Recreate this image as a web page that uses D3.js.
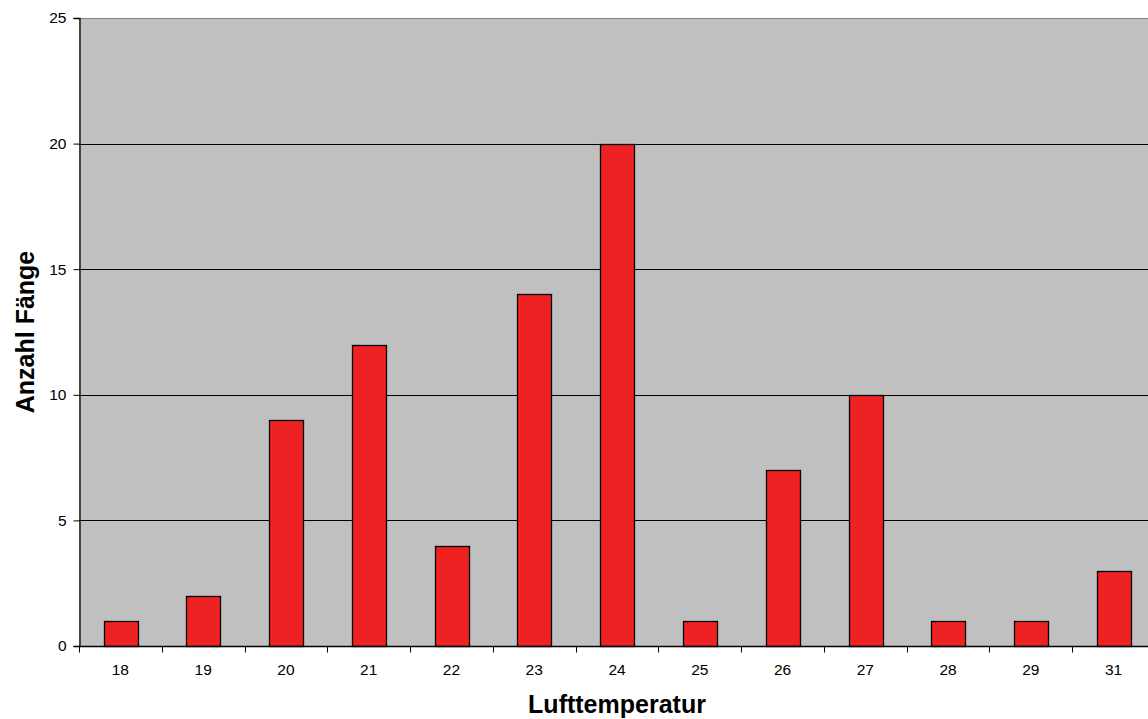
<!DOCTYPE html>
<html>
<head>
<meta charset="utf-8">
<script src="https://cdn.jsdelivr.net/npm/d3@7"></script>
<style>
  html, body { margin: 0; padding: 0; background: #fff; }
  svg { display: block; font-family: "Liberation Sans", Arial, sans-serif; }
</style>
</head>
<body>
<svg id="chart" width="1148" height="719"></svg>
<script>
// Catch counts per air temperature (°C)
const temperatures = ["18", "19", "20", "21", "22", "23", "24", "25", "26", "27", "28", "29", "31"];
const catches = [1, 2, 9, 12, 4, 14, 20, 1, 7, 10, 1, 1, 3];
const yTicks = [0, 5, 10, 15, 20, 25];

const svg = d3.select("#chart");
const plotLeft = 79, plotTop = 18, plotBottom = 646, plotRight = 1155;

const x = d3.scaleBand().domain(temperatures).range([plotLeft, plotRight]).paddingInner(0).paddingOuter(0);
const y = d3.scaleLinear().domain([0, 25]).range([plotBottom, plotTop]);

// plot area background
svg.append("rect")
  .attr("x", plotLeft).attr("y", plotTop)
  .attr("width", plotRight - plotLeft).attr("height", plotBottom - plotTop)
  .attr("fill", "#c0c0c0");

// top border of the plot area
svg.append("line")
  .attr("x1", plotLeft).attr("x2", plotRight)
  .attr("y1", plotTop + 0.5).attr("y2", plotTop + 0.5)
  .attr("stroke", "#808080").attr("stroke-width", 1);

// horizontal gridlines
svg.append("g").selectAll("line")
  .data(yTicks.filter(d => d > 0 && d < 25))
  .join("line")
  .attr("x1", plotLeft).attr("x2", plotRight)
  .attr("y1", d => Math.round(y(d)) + 0.5).attr("y2", d => Math.round(y(d)) + 0.5)
  .attr("stroke", "#000").attr("stroke-width", 1);

// bars
const barW = x.bandwidth() * 0.405;
svg.append("g").selectAll("rect")
  .data(temperatures.map((t, i) => ({ t, v: catches[i] })))
  .join("rect")
  .attr("x", d => Math.round(x(d.t) + (x.bandwidth() - barW) / 2) + 0.5)
  .attr("y", d => Math.round(y(d.v)) + 0.5)
  .attr("width", Math.round(barW))
  .attr("height", d => Math.round(y(0)) - Math.round(y(d.v)))
  .attr("fill", "#ee2222")
  .attr("stroke", "#000").attr("stroke-width", 1.3);

// y axis
const yAxis = svg.append("g")
  .attr("transform", `translate(${plotLeft + 0.5},0)`)
  .call(d3.axisLeft(y).tickValues(yTicks).tickSize(6).tickPadding(7).tickFormat(d3.format("d")));
yAxis.select(".domain").attr("stroke", "#000").attr("stroke-width", 1.3);
yAxis.selectAll(".tick line").attr("stroke", "#000");
yAxis.selectAll("text").attr("font-size", 15.5).attr("fill", "#000")
  .attr("font-family", "'Liberation Sans', Arial, sans-serif");

// x axis: ticks sit on band boundaries
const xAxis = svg.append("g")
  .attr("transform", `translate(0,${plotBottom + 0.5})`);
xAxis.append("line")
  .attr("x1", plotLeft).attr("x2", plotRight)
  .attr("stroke", "#000").attr("stroke-width", 1.3);
xAxis.selectAll("line.tk")
  .data(temperatures.map(t => x(t)).concat([plotRight]))
  .join("line").attr("class", "tk")
  .attr("x1", d => Math.round(d) + 0.5).attr("x2", d => Math.round(d) + 0.5)
  .attr("y1", 0).attr("y2", 6)
  .attr("stroke", "#000");
xAxis.selectAll("text")
  .data(temperatures)
  .join("text")
  .attr("x", d => x(d) + x.bandwidth() / 2)
  .attr("y", 28)
  .attr("text-anchor", "middle")
  .attr("font-size", 15.5).attr("fill", "#000")
  .text(d => d);

// axis titles
svg.append("text")
  .attr("x", (plotLeft + plotRight) / 2).attr("y", 713)
  .attr("text-anchor", "middle")
  .attr("font-size", 25).attr("font-weight", "bold")
  .text("Lufttemperatur");

svg.append("text")
  .attr("transform", `translate(34,${(plotTop + plotBottom) / 2}) rotate(-90)`)
  .attr("text-anchor", "middle")
  .attr("font-size", 25).attr("font-weight", "bold")
  .text("Anzahl Fänge");
</script>
</body>
</html>
